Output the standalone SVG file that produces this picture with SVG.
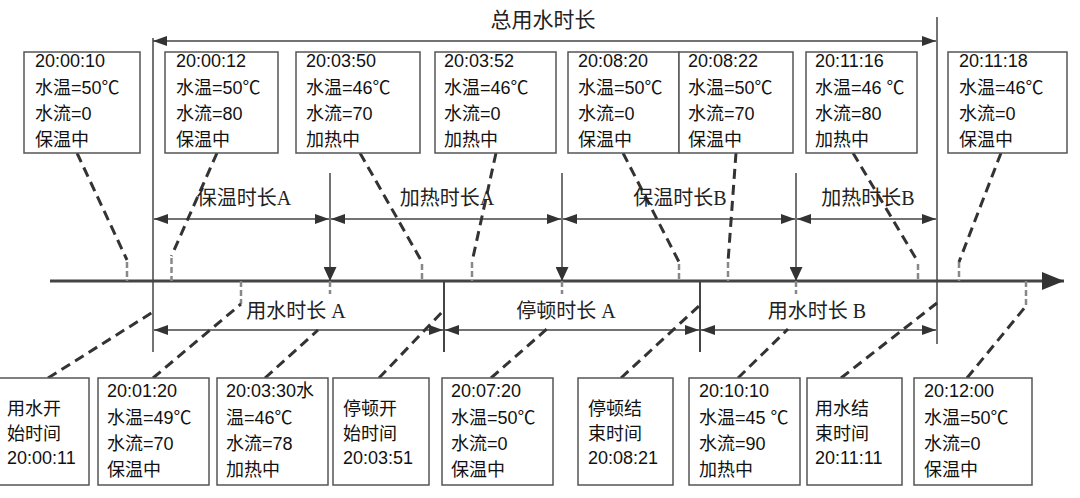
<svg xmlns="http://www.w3.org/2000/svg" width="1080" height="498" viewBox="0 0 1080 498">
<style>
.box{fill:#fff;stroke:#555;stroke-width:1.5}
.t{font-family:"Liberation Sans","Noto Sans CJK SC",sans-serif;font-size:18px;fill:#111}
.lbl{font-family:"Liberation Serif","Noto Sans CJK SC",serif;font-size:20px;fill:#222;text-anchor:middle}
.dim{stroke:#444;stroke-width:1.3;fill:none}
.vl{stroke:#444;stroke-width:1.5;fill:none}
.ld{stroke:#333;stroke-width:3;stroke-dasharray:10 6;fill:none}
.tk{stroke:#888;stroke-width:2.5;stroke-dasharray:6 3;fill:none}
.ax{stroke:#444;stroke-width:3;fill:none}
</style>
<defs>
<marker id="ah" viewBox="0 0 14 10" refX="14" refY="5" markerWidth="14" markerHeight="10" orient="auto-start-reverse" markerUnits="userSpaceOnUse"><path d="M0,0 L14,5 L0,10 z" fill="#333"/></marker>
<marker id="ahd" viewBox="0 0 14 13" refX="14" refY="6.5" markerWidth="14" markerHeight="13" orient="auto" markerUnits="userSpaceOnUse"><path d="M0,0 L14,6.5 L0,13 z" fill="#333"/></marker>
<marker id="aha" viewBox="0 0 22 18" refX="22" refY="9" markerWidth="22" markerHeight="18" orient="auto" markerUnits="userSpaceOnUse"><path d="M0,0 L22,9 L0,18 z" fill="#333"/></marker>
</defs>

<g id="connectors">
<!-- axis -->
<line class="ax" x1="50" y1="281" x2="1064" y2="281" marker-end="url(#aha)"/>
<!-- verticals -->
<line class="vl" x1="153" y1="38" x2="153" y2="352"/>
<line class="vl" x1="937" y1="17" x2="937" y2="344"/>
<line class="vl" x1="444" y1="281" x2="444" y2="352" style="stroke-width:2"/>
<line class="vl" x1="700" y1="281" x2="700" y2="352" style="stroke-width:2"/>
<!-- down arrows -->
<line class="vl" x1="330" y1="173" x2="330" y2="281" marker-end="url(#ahd)"/>
<line class="vl" x1="562" y1="173" x2="562" y2="281" marker-end="url(#ahd)"/>
<line class="vl" x1="796" y1="173" x2="796" y2="281" marker-end="url(#ahd)"/>
<!-- top total dimension -->
<line class="dim" x1="153" y1="41" x2="936" y2="41" marker-start="url(#ah)" marker-end="url(#ah)"/>
<!-- upper dimensions -->
<line class="dim" x1="154" y1="219" x2="329" y2="219" marker-start="url(#ah)" marker-end="url(#ah)"/>
<line class="dim" x1="331" y1="219" x2="561" y2="219" marker-start="url(#ah)" marker-end="url(#ah)"/>
<line class="dim" x1="563" y1="219" x2="795" y2="219" marker-start="url(#ah)" marker-end="url(#ah)"/>
<line class="dim" x1="797" y1="219" x2="936" y2="219" marker-start="url(#ah)" marker-end="url(#ah)"/>
<!-- lower dimensions -->
<line class="dim" x1="154" y1="330" x2="443" y2="330" marker-start="url(#ah)" marker-end="url(#ah)"/>
<line class="dim" x1="445" y1="330" x2="699" y2="330" marker-start="url(#ah)" marker-end="url(#ah)"/>
<line class="dim" x1="701" y1="330" x2="936" y2="330" marker-start="url(#ah)" marker-end="url(#ah)"/>
<!-- ticks above axis -->
<path class="tk" d="M127,262V281 M171.5,258V281 M422,264V281 M472,262V281 M679,264V281 M728,262V281 M918,264V281 M959,262V281"/>
<!-- ticks below axis -->
<path class="tk" d="M241,281V304 M330,281V294 M562,281V294 M796,281V294 M1026,281V306"/>
<!-- top leaders -->
<path class="ld" d="M77,153 L127,260"/>
<path class="ld" d="M217,153 L171.5,256"/>
<path class="ld" d="M360,153 L422,262"/>
<path class="ld" d="M496,153 L472,262"/>
<path class="ld" d="M623,153 L679,262"/>
<path class="ld" d="M736,153 L728,262"/>
<path class="ld" d="M853,153 L918,262"/>
<path class="ld" d="M1001,153 L959,262"/>
<!-- bottom leaders -->
<path class="ld" d="M48,378 L153,312"/>
<path class="ld" d="M153,378 L241,304"/>
<path class="ld" d="M265,378 L318,330"/>
<path class="ld" d="M379,378 L444,310"/>
<path class="ld" d="M491,378 L548,328"/>
<path class="ld" d="M621,378 L700,305"/>
<path class="ld" d="M738,378 L788,329"/>
<path class="ld" d="M841,378 L937,303"/>
<path class="ld" d="M967,378 L1026,306"/>
</g>

<g id="labels">
<text class="lbl" x="543" y="27" style="font-size:21px">总用水时长</text>
<text class="lbl" x="244" y="205">保温时长A</text>
<text class="lbl" x="447" y="205">加热时长A</text>
<text class="lbl" x="680" y="205">保温时长B</text>
<text class="lbl" x="868" y="205">加热时长B</text>
<text class="lbl" x="296" y="318">用水时长 A</text>
<text class="lbl" x="566" y="318">停顿时长 A</text>
<text class="lbl" x="817" y="318">用水时长 B</text>
</g>

<g id="top1"><rect class="box" x="24" y="52" width="116" height="101"/><text class="t"><tspan x="35" y="67">20:00:10</tspan><tspan x="35" y="94">水温=50℃</tspan><tspan x="35" y="120">水流=0</tspan><tspan x="35" y="146">保温中</tspan></text></g>
<g id="top2"><rect class="box" x="165" y="52" width="113" height="101"/><text class="t"><tspan x="176" y="67">20:00:12</tspan><tspan x="176" y="94">水温=50℃</tspan><tspan x="176" y="120">水流=80</tspan><tspan x="176" y="146">保温中</tspan></text></g>
<g id="top3"><rect class="box" x="296" y="52" width="124" height="101"/><text class="t"><tspan x="306" y="67">20:03:50</tspan><tspan x="306" y="94">水温=46℃</tspan><tspan x="306" y="120">水流=70</tspan><tspan x="306" y="146">加热中</tspan></text></g>
<g id="top4"><rect class="box" x="435" y="52" width="121" height="101"/><text class="t"><tspan x="444" y="67">20:03:52</tspan><tspan x="444" y="94">水温=46℃</tspan><tspan x="444" y="120">水流=0</tspan><tspan x="444" y="146">加热中</tspan></text></g>
<g id="top5"><rect class="box" x="568" y="52" width="111" height="101"/><text class="t"><tspan x="578" y="67">20:08:20</tspan><tspan x="578" y="94">水温=50℃</tspan><tspan x="578" y="120">水流=0</tspan><tspan x="578" y="146">保温中</tspan></text></g>
<g id="top6"><rect class="box" x="679" y="52" width="114" height="101"/><text class="t"><tspan x="688" y="67">20:08:22</tspan><tspan x="688" y="94">水温=50℃</tspan><tspan x="688" y="120">水流=70</tspan><tspan x="688" y="146">保温中</tspan></text></g>
<g id="top7"><rect class="box" x="806" y="52" width="111" height="101"/><text class="t"><tspan x="815" y="67">20:11:16</tspan><tspan x="815" y="94">水温=46 ℃</tspan><tspan x="815" y="120">水流=80</tspan><tspan x="815" y="146">加热中</tspan></text></g>
<g id="top8"><rect class="box" x="948" y="52" width="119" height="101"/><text class="t"><tspan x="959" y="67">20:11:18</tspan><tspan x="959" y="94">水温=46℃</tspan><tspan x="959" y="120">水流=0</tspan><tspan x="959" y="146">保温中</tspan></text></g>

<g id="bot1"><rect class="box" x="-1" y="378" width="90" height="107"/><text class="t"><tspan x="7" y="415">用水开</tspan><tspan x="7" y="440">始时间</tspan><tspan x="7" y="464">20:00:11</tspan></text></g>
<g id="bot2"><rect class="box" x="98" y="378" width="111" height="107"/><text class="t"><tspan x="107" y="397">20:01:20</tspan><tspan x="107" y="424">水温=49℃</tspan><tspan x="107" y="450">水流=70</tspan><tspan x="107" y="476">保温中</tspan></text></g>
<g id="bot3"><rect class="box" x="217" y="378" width="111" height="107"/><text class="t"><tspan x="226" y="397">20:03:30水</tspan><tspan x="226" y="424">温=46℃</tspan><tspan x="226" y="450">水流=78</tspan><tspan x="226" y="476">加热中</tspan></text></g>
<g id="bot4"><rect class="box" x="333" y="378" width="96" height="107"/><text class="t"><tspan x="343" y="415">停顿开</tspan><tspan x="343" y="440">始时间</tspan><tspan x="343" y="464">20:03:51</tspan></text></g>
<g id="bot5"><rect class="box" x="442" y="378" width="111" height="107"/><text class="t"><tspan x="451" y="397">20:07:20</tspan><tspan x="451" y="424">水温=50℃</tspan><tspan x="451" y="450">水流=0</tspan><tspan x="451" y="476">保温中</tspan></text></g>
<g id="bot6"><rect class="box" x="578" y="378" width="95" height="107"/><text class="t"><tspan x="588" y="415">停顿结</tspan><tspan x="588" y="440">束时间</tspan><tspan x="588" y="464">20:08:21</tspan></text></g>
<g id="bot7"><rect class="box" x="689" y="378" width="111" height="107"/><text class="t"><tspan x="699" y="397">20:10:10</tspan><tspan x="699" y="424">水温=45 ℃</tspan><tspan x="699" y="450">水流=90</tspan><tspan x="699" y="476">加热中</tspan></text></g>
<g id="bot8"><rect class="box" x="807" y="378" width="95" height="107"/><text class="t"><tspan x="815" y="415">用水结</tspan><tspan x="815" y="440">束时间</tspan><tspan x="815" y="464">20:11:11</tspan></text></g>
<g id="bot9"><rect class="box" x="914" y="378" width="118" height="107"/><text class="t"><tspan x="924" y="397">20:12:00</tspan><tspan x="924" y="424">水温=50℃</tspan><tspan x="924" y="450">水流=0</tspan><tspan x="924" y="476">保温中</tspan></text></g>
</svg>
